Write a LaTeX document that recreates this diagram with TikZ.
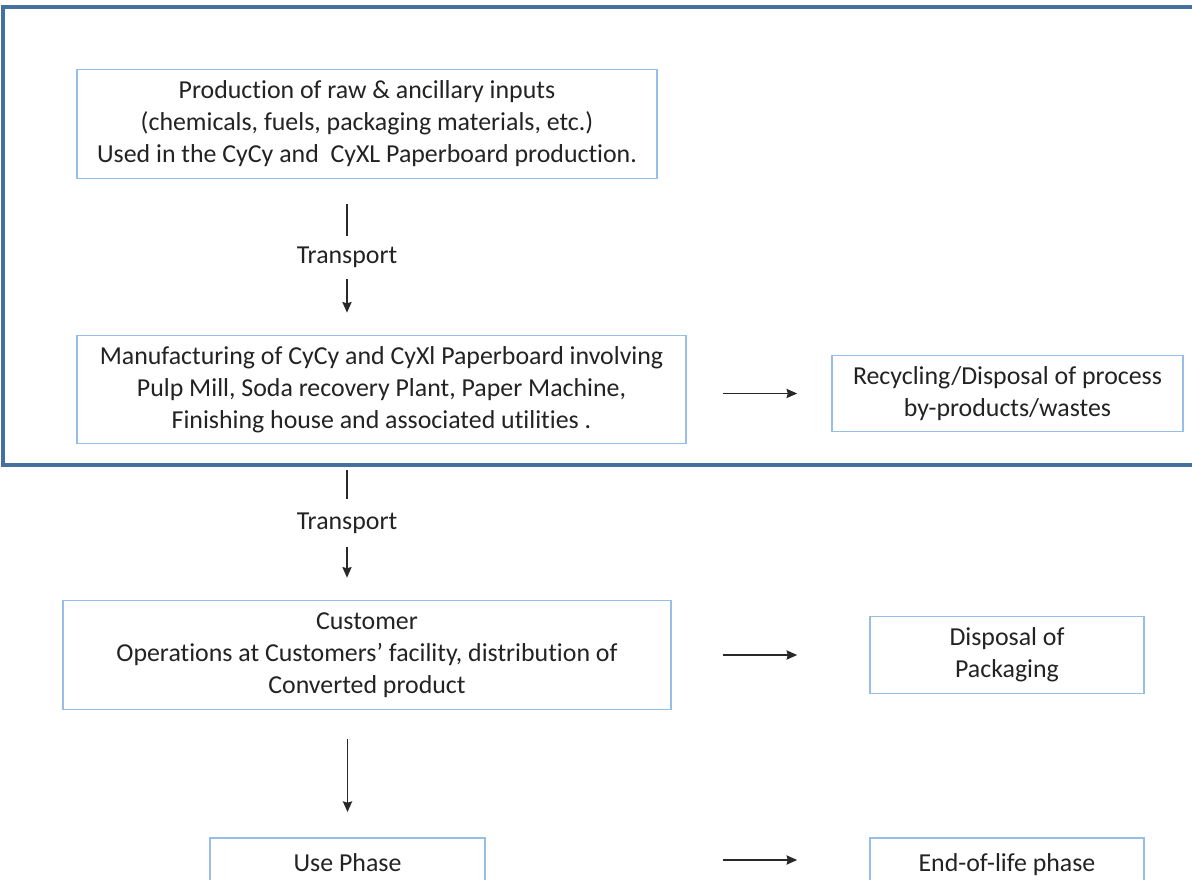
\documentclass[tikz,border=0pt]{standalone}
\usepackage{fontspec}
\setmainfont{Carlito}[Ligatures=NoCommon]
\usetikzlibrary{arrows.meta}
\definecolor{frameblue}{RGB}{70,112,158}
\definecolor{boxblue}{RGB}{150,190,230}
\definecolor{txt}{RGB}{35,35,35}
\definecolor{arr}{RGB}{40,40,40}
\tikzset{
  stagebox/.style={draw=boxblue, line width=1.3pt, fill=white, align=center, inner sep=0pt, text=txt,
    font=\fontsize{19.4}{24}\selectfont},
  lbl/.style={inner sep=0pt, text=txt, font=\fontsize{19.4}{24}\selectfont, minimum width=80pt},
  conn/.style={draw=arr, line width=0.8pt},
  arrow/.style={conn, -{Stealth[length=8pt,width=7pt,inset=1pt]}}
}
\begin{document}
\begin{tikzpicture}[x=0.75pt,y=-0.75pt]
\clip (0,0) rectangle (1192,880);
\fill[white] (0,0) rectangle (1192,880);
% outer frame
\draw[frameblue, line width=2.6pt] (3,7) rectangle (1320,465);
% boxes
\node[stagebox, minimum width=435pt, minimum height=81.75pt] (b1) at (367,124)
  {Production of raw \& ancillary inputs\\(chemicals, fuels, packaging materials, etc.)\\Used in the CyCy and \ CyXL Paperboard production.};
\node[stagebox, minimum width=456.75pt, minimum height=81pt] (b2) at (381.5,389.5)
  {Manufacturing of CyCy and CyXl Paperboard involving\\Pulp Mill, Soda recovery Plant, Paper Machine,\\Finishing house and associated utilities .};
\node[stagebox, minimum width=263.25pt, minimum height=57pt] (b3) at (1007.5,393.5)
  {Recycling/Disposal of process\\by-products/wastes};
\node[stagebox, minimum width=456pt, minimum height=81.75pt] (b4) at (367,655)
  {Customer\\Operations at Customers’ facility, distribution of\\Converted product};
\node[stagebox, minimum width=205.5pt, minimum height=57.75pt] (b5) at (1007,655)
  {Disposal of\\Packaging};
\node[stagebox, anchor=north, minimum width=206.25pt, text height=25pt, text depth=33pt] (b6) at (347.5,837)
  {Use Phase};
\node[stagebox, anchor=north, minimum width=205.5pt, text height=25pt, text depth=33pt] (b7) at (1007,837)
  {End-of-life phase};
% transport labels
\node[lbl, minimum height=32.25pt] (t1) at (347,257.5) {Transport};
\node[lbl, minimum height=36pt] (t2) at (347,523) {Transport};
% vertical connectors
\draw[conn, shorten <=18.75pt] (b1.south -| t1) -- (t1);
\draw[arrow, shorten >=16.5pt] (t1) -- (t1 |- b2.north);
\draw[conn, shorten <=19.5pt] (b2.south -| t2) -- (t2);
\draw[arrow, shorten >=16.5pt] (t2) -- (t2 |- b4.north);
\draw[arrow, shorten <=21.75pt, shorten >=18.75pt] (b4.south -| b6.north) -- (b6.north);
% horizontal connectors
\draw[arrow, shorten <=27pt, shorten >=25.5pt] (b2.east |- b3.west) -- (b3.west);
\draw[arrow, shorten <=38.25pt, shorten >=54pt] (b4.east |- b5.west) -- (b5.west);
\draw[arrow, shorten <=177.75pt, shorten >=54pt] ([yshift=-17.25pt]b6.north east) -- ([yshift=-17.25pt]b7.north west);
\end{tikzpicture}
\end{document}
